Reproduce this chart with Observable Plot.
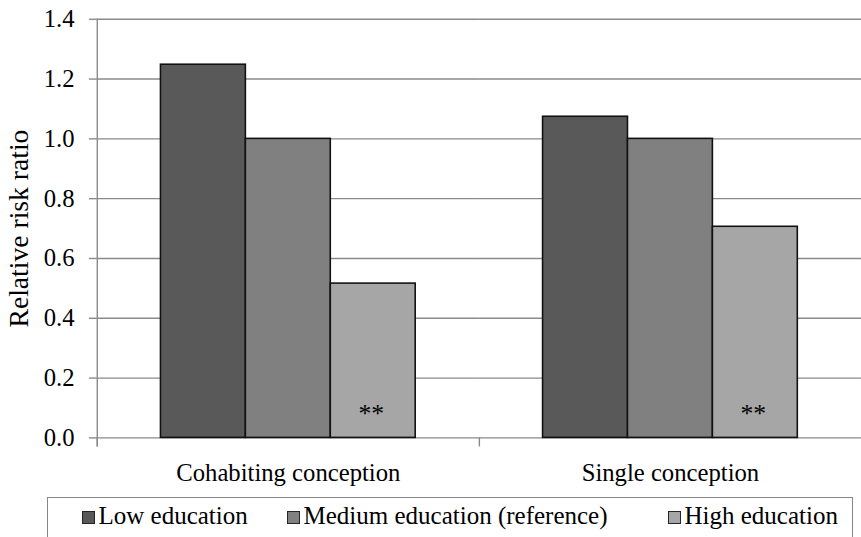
<!DOCTYPE html>
<html>
<head>
<meta charset="utf-8">
<script src="https://cdn.jsdelivr.net/npm/d3@7"></script>
<script src="https://cdn.jsdelivr.net/npm/@observablehq/plot@0.6"></script>
<style>
  html, body { margin: 0; padding: 0; background: white; overflow: hidden; }
  #wrap { position: relative; width: 861px; height: 537px; overflow: hidden; }
  #chart svg { display: block; }
  .legend { position: absolute; left: 47px; top: 497px; width: 806px; height: 60px;
    box-sizing: border-box; border: 1.5px solid #868686; background: white;
    font-family: "Liberation Serif", "Times New Roman", serif;
    font-size: 25px; line-height: 30px; color: black; }
  .item { position: absolute; top: 3px; white-space: nowrap; }
  .sw { display: inline-block; width: 13px; height: 13px; box-sizing: border-box;
    border: 1.3px solid #262626; margin-right: 4px; vertical-align: baseline; }
</style>
</head>
<body>
<div id="wrap"><div id="chart"></div><div class="legend" id="legend"></div></div>
<script>
const categories = ["Cohabiting conception", "Single conception"];
const educations = ["Low education", "Medium education (reference)", "High education"];
const cohabiting = [1.248, 1.0, 0.516];
const single = [1.074, 1.0, 0.706];
const significance = [["", "", "**"], ["", "", "**"]];
const yTicks = [0, 0.2, 0.4, 0.6, 0.8, 1.0, 1.2, 1.4];
const yTitle = "Relative risk ratio";
const fills = ["#595959", "#808080", "#a6a6a6"];

const series = [cohabiting, single];
const data = categories.flatMap((c, i) => educations.map((e, j) => ({
  category: c, education: e, value: series[i][j], sig: significance[i][j]
})));

const family = "'Liberation Serif', 'Times New Roman', serif";
const grid = "#8a8a8a";
const chart = Plot.plot({
  width: 872, height: 497,
  marginLeft: 98, marginRight: 0, marginTop: 19, marginBottom: 54,
  style: { fontFamily: family, fontSize: "25px", background: "white", color: "black" },
  fx: { domain: categories, padding: 0, round: false },
  x: { domain: educations, paddingInner: 0, paddingOuter: 0.75, round: false, axis: null },
  y: { domain: [0, 1.4] },
  color: { domain: educations, range: fills },
  marks: [
    Plot.ruleY(yTicks, { stroke: grid, strokeWidth: 1.4 }),
    Plot.frame({ anchor: "left", stroke: grid, strokeWidth: 1.4, insetTop: 424, insetBottom: -8 }),
    Plot.frame({ anchor: "left", facetAnchor: "left", stroke: grid, strokeWidth: 1.4, insetBottom: -8 }),
    Plot.barY(data, { fx: "category", x: "education", y: "value", fill: "education", stroke: "#111", strokeWidth: 1.6 }),
    Plot.text(data.filter(d => d.sig), { fx: "category", x: "education", text: "sig", frameAnchor: "bottom", dy: -16, dx: -2, fontSize: 26, fill: "black" }),
    Plot.axisY(yTicks, { tickSize: 8, tickPadding: 15, tickFormat: d3.format(".1f"), stroke: grid, strokeWidth: 1.4, fill: "black", fontSize: 25, label: null }),
    Plot.axisY({ ticks: [], tickSize: 0, label: yTitle, labelAnchor: "center", labelOffset: 90, labelArrow: "none", fontSize: 28, fill: "black" }),
    Plot.axisFx({ anchor: "bottom", tickSize: 0, tickPadding: 26, label: null, fontSize: 25, fill: "black" })
  ]
});
document.getElementById("chart").appendChild(chart);

const legend = document.getElementById("legend");
const lefts = [82, 287, 668];
educations.forEach((e, i) => {
  const item = document.createElement("span");
  item.className = "item";
  item.style.left = (lefts[i] - 48.5) + "px";
  const sw = document.createElement("span");
  sw.className = "sw";
  sw.style.background = fills[i];
  item.appendChild(sw);
  item.appendChild(document.createTextNode(e));
  legend.appendChild(item);
});
</script>
</body>
</html>
